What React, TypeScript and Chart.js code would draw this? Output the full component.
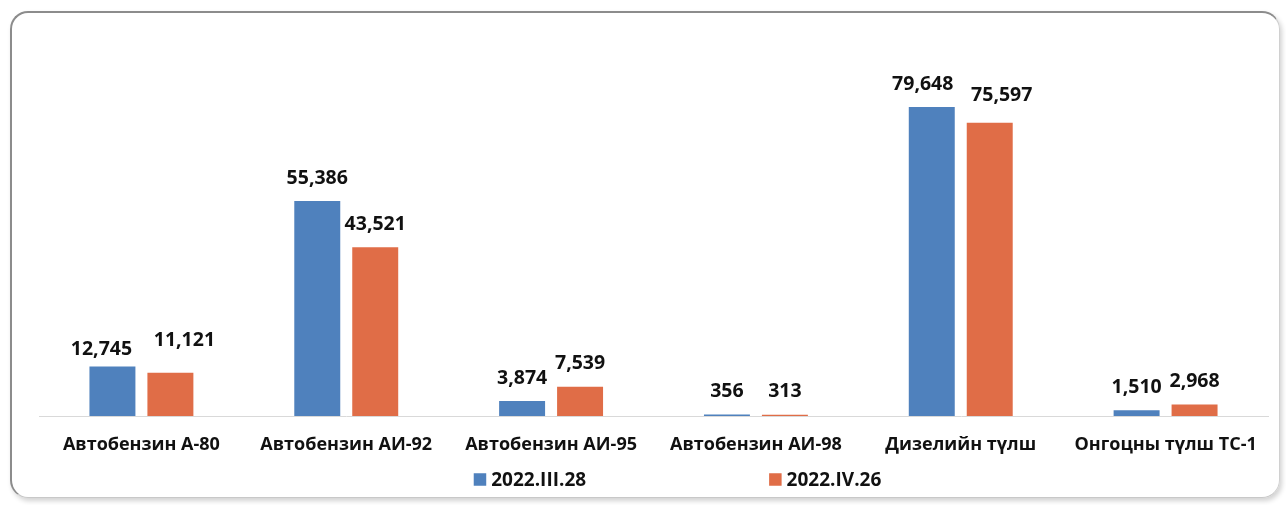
import React, { useEffect, useRef } from "react";
import { Chart, registerables } from "chart.js";

Chart.register(...registerables);

// ---- Data ----
const categories = [
  "Автобензин А-80",
  "Автобензин АИ-92",
  "Автобензин АИ-95",
  "Автобензин АИ-98",
  "Дизелийн түлш",
  "Онгоцны түлш ТС-1",
];
const seriesNames = ["2022.III.28", "2022.IV.26"];
const valuesMarch = [12745, 55386, 3874, 356, 79648, 1510];
const valuesApril = [11121, 43521, 7539, 313, 75597, 2968];

// ---- Style ----
const seriesColors = ["#4F81BD", "#E06D47"];
const FONT = "'Open Sans', 'Noto Sans', sans-serif";
const TEXT = "#111111";
// manual label nudges [dx, dy] per dataset/category (as in the source, to avoid overlaps)
const labelNudges: Record<string, [number, number]> = {
  "0-0": [-11, 6],
  "1-0": [14, -9],
  "0-4": [-9, 0],
  "1-4": [12, -4],
};

const valueLabelPlugin = {
  id: "valueLabels",
  afterDatasetsDraw(chart: any) {
    const ctx = chart.ctx;
    ctx.save();
    ctx.font = `bold 19.5px ${FONT}`;
    ctx.fillStyle = TEXT;
    ctx.textAlign = "center";
    ctx.textBaseline = "middle";
    chart.data.datasets.forEach((ds: any, di: number) => {
      const meta = chart.getDatasetMeta(di);
      meta.data.forEach((el: any, i: number) => {
        const v = ds.data[i] as number;
        const [dx, dy] = labelNudges[`${di}-${i}`] || [0, 0];
        ctx.fillText(v.toLocaleString("en-US"), el.x + dx, el.y - 23 + dy);
      });
    });
    ctx.restore();
  },
};

const customLegendPlugin = {
  id: "customLegend",
  afterDraw(chart: any) {
    const ctx = chart.ctx;
    const area = chart.chartArea;
    ctx.save();
    ctx.font = `bold 19px ${FONT}`;
    ctx.textBaseline = "middle";
    ctx.textAlign = "left";
    const box = 12.5;
    const textGap = 5;
    const itemGap = 183;
    const widths = seriesNames.map((n) => box + textGap + ctx.measureText(n).width);
    const total = widths.reduce((a, b) => a + b, 0) + itemGap * (seriesNames.length - 1);
    const cx = (area.left + area.right) / 2 + 24;
    let x = cx - total / 2;
    const y = 479.5;
    seriesNames.forEach((n, i) => {
      ctx.fillStyle = seriesColors[i];
      ctx.fillRect(x, y - box / 2, box, box);
      ctx.fillStyle = TEXT;
      ctx.fillText(n, x + box + textGap, y + 1);
      x += widths[i] + itemGap;
    });
    ctx.restore();
  },
};

export default function App() {
  const canvasRef = useRef<HTMLCanvasElement | null>(null);

  useEffect(() => {
    if (!canvasRef.current) return;
    const chart = new Chart(canvasRef.current, {
      type: "bar",
      data: {
        labels: categories,
        datasets: [
          {
            label: seriesNames[0],
            data: valuesMarch,
            backgroundColor: seriesColors[0],
            categoryPercentage: 0.566,
            barPercentage: 0.793,
          },
          {
            label: seriesNames[1],
            data: valuesApril,
            backgroundColor: seriesColors[1],
            categoryPercentage: 0.566,
            barPercentage: 0.793,
          },
        ],
      },
      options: {
        responsive: false,
        animation: false,
        layout: { padding: { left: 39, right: 18, top: 28, bottom: 30.4 } },
        plugins: {
          legend: { display: false },
          tooltip: { enabled: false },
          title: { display: false },
        },
        scales: {
          x: {
            grid: { display: false, drawTicks: false },
            border: { display: true, color: "#d9d9d9", width: 1 },
            ticks: {
              padding: 18.5,
              color: TEXT,
              autoSkip: false,
              maxRotation: 0,
              minRotation: 0,
              font: { family: FONT, size: 18, weight: "bold", lineHeight: 1.2 },
            },
          },
          y: { display: false, min: 0, max: 100000 },
        },
      },
      plugins: [valueLabelPlugin, customLegendPlugin],
    });
    return () => chart.destroy();
  }, []);

  return (
    <div
      style={{
        position: "fixed",
        left: 0,
        top: 0,
        width: 1286,
        height: 505,
        background: "#ffffff",
      }}
    >
      <div
        style={{
          position: "absolute",
          left: 10,
          top: 11,
          width: 1270,
          height: 487,
          borderTop: "2px solid #8c8c8c",
          borderLeft: "2px solid #8c8c8c",
          borderRight: "1px solid #d0d0d0",
          borderBottom: "1px solid #c8c8c8",
          borderRadius: 18,
          boxShadow: "2px 3px 5px rgba(0,0,0,0.18)",
          boxSizing: "border-box",
        }}
      />
      <canvas
        ref={canvasRef}
        width={1286}
        height={505}
        style={{ position: "absolute", left: 0, top: 0, width: 1286, height: 505 }}
      />
    </div>
  );
}
